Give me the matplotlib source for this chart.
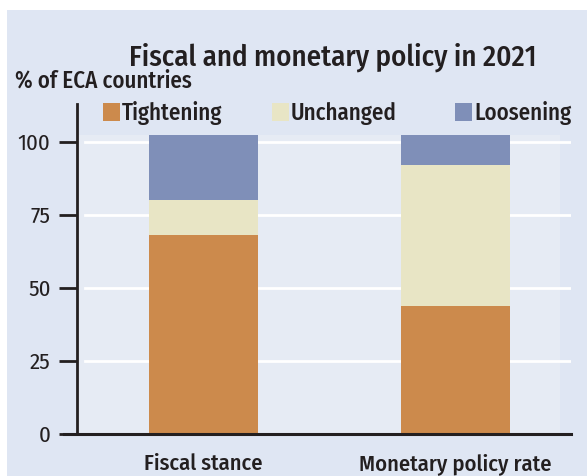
import matplotlib
matplotlib.use("Agg")
import matplotlib.pyplot as plt
from matplotlib.patches import Rectangle
import numpy as np

# data (% of ECA countries)
categories = ["Fiscal stance", "Monetary policy rate"]
tightening = [68, 44]
unchanged = [12, 48]
loosening = [22.5, 10.5]
series_names = ["Tightening", "Unchanged", "Loosening"]
yticks = [0, 25, 50, 75, 100]

colors = ["#cc8a4c", "#e8e5c5", "#7f8fb8"]
bg = "#dfe6f3"
plot_bg = "#e6ebf4"
ink = "#231f20"

plt.rcParams["font.family"] = ["Fira Sans Condensed", "DejaVu Sans"]

W, H = 587, 476
fig = plt.figure(figsize=(W / 100, H / 100), dpi=100, facecolor="white")
fig.patches.append(Rectangle((7 / W, 0), 1, (H - 10) / H, transform=fig.transFigure,
                             facecolor=bg, edgecolor="none", zorder=-10))

ax = fig.add_axes([77 / W, (H - 434) / H, (571 - 77) / W, (434 - 104) / H])
ax.patch.set_visible(False)

x = np.arange(len(categories))
xlim = (-0.502, 1.458)
ymax = 113
ax.set_xlim(*xlim)
ax.set_ylim(0, ymax)

top = np.array(tightening) + np.array(unchanged) + np.array(loosening)
# lighter panel behind the bars
ax.add_patch(Rectangle((xlim[0], 0), 1.415 - xlim[0], top.max(), facecolor=plot_bg,
                       edgecolor="none", zorder=0))

# white gridlines
for t in yticks[1:]:
    ax.axhline(t, xmin=(85 - 77) / (571 - 77), xmax=1, color="white", lw=2, zorder=1)

bottom = np.zeros(len(categories))
for vals, c in zip([tightening, unchanged, loosening], colors):
    ax.bar(x, vals, width=0.433, bottom=bottom, color=c, zorder=2)
    bottom += np.array(vals)

for s in ["top", "right"]:
    ax.spines[s].set_visible(False)
ax.spines["left"].set_color(ink)
ax.spines["left"].set_linewidth(2)
ax.spines["bottom"].set_color(ink)
ax.spines["bottom"].set_linewidth(2.2)
ax.spines["bottom"].set_bounds(xlim[0] - 0.052, xlim[1])
ax.spines["bottom"].set_zorder(3)

ax.set_yticks(yticks)
ax.set_yticklabels([str(t) for t in yticks], fontsize=16.5, color=ink)
ax.tick_params(axis="y", length=13, width=2, color=ink, pad=6)
ax.set_xticks(x)
ax.set_xticklabels(categories, fontsize=16.2, color=ink, fontweight="medium")
ax.tick_params(axis="x", length=0, pad=13.5)

# legend, placed by hand (square left edge in px)
legend_x = [103, 272, 455]
for name, c, lx in zip(series_names, colors, legend_x):
    fig.patches.append(Rectangle((lx / W, 1 - 121 / H), 17 / W, 18 / H,
                                 transform=fig.transFigure, facecolor=c,
                                 edgecolor="none"))
    fig.text((lx + 19) / W, 1 - 120 / H, name, ha="left", va="baseline",
             fontsize=16.5, color=ink, fontweight="medium")

fig.text(333 / W, 1 - 66 / H, "Fiscal and monetary policy in 2021", ha="center",
         va="baseline", fontsize=20.8, color=ink, fontweight="medium")
fig.text(15 / W, 1 - 88 / H, "% of ECA countries", ha="left", va="baseline",
         fontsize=16.5, color=ink, fontweight="medium")

fig.savefig("out.png", dpi=100, facecolor="white")
